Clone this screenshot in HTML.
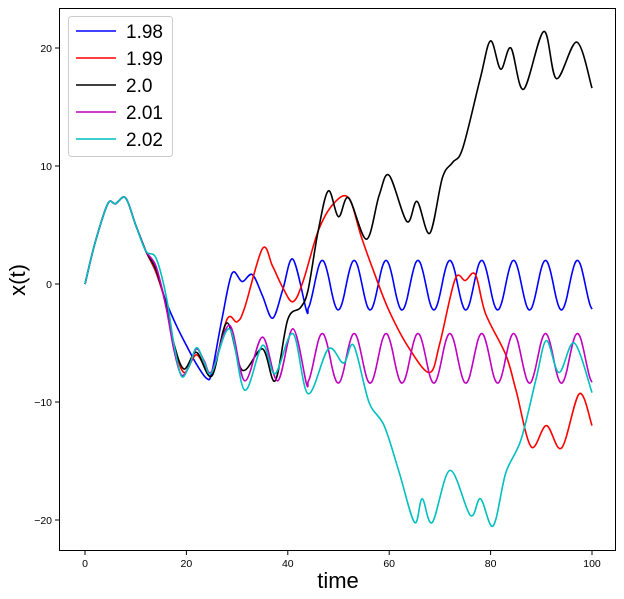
<!DOCTYPE html><html><head><style>body{margin:0;background:#fff}svg{display:block;font-family:"Liberation Sans","DejaVu Sans",sans-serif}</style></head><body>
<svg id="s" width="624" height="599" xmlns="http://www.w3.org/2000/svg">
<rect x="0" y="0" width="624" height="599" fill="#fff"/>
<g id="lines" fill="none" stroke-width="1.6"></g>
<rect x="59.5" y="8.5" width="556" height="542" fill="none" stroke="#000" stroke-width="1"/>
<g font-size="10.5" fill="#000" text-anchor="middle">
<g stroke="#000"><line x1="85" y1="551" x2="85" y2="555"/><line x1="186.4" y1="551" x2="186.4" y2="555"/><line x1="287.8" y1="551" x2="287.8" y2="555"/><line x1="389.2" y1="551" x2="389.2" y2="555"/><line x1="490.6" y1="551" x2="490.6" y2="555"/><line x1="592" y1="551" x2="592" y2="555"/>
<line x1="55" y1="48" x2="59.5" y2="48"/><line x1="55" y1="166" x2="59.5" y2="166"/><line x1="55" y1="284" x2="59.5" y2="284"/><line x1="55" y1="402" x2="59.5" y2="402"/><line x1="55" y1="520" x2="59.5" y2="520"/></g>
<text x="85" y="567">0</text><text x="186.4" y="567">20</text><text x="287.8" y="567">40</text><text x="389.2" y="567">60</text><text x="490.6" y="567">80</text><text x="592" y="567">100</text>
<g text-anchor="end"><text x="52" y="52">20</text><text x="52" y="170">10</text><text x="52" y="288">0</text><text x="52" y="406">−10</text><text x="52" y="524">−20</text></g>
</g>
<text x="338" y="588" font-size="22" text-anchor="middle">time</text>
<text transform="translate(25,280) rotate(-90)" font-size="22" text-anchor="middle">x(t)</text>
<rect x="68.5" y="16.5" width="104" height="140" rx="3" fill="#fff" fill-opacity="0.85" stroke="#ccc"/>
<g font-size="19" stroke-width="1.6">
<line x1="76" y1="31" x2="116" y2="31" stroke="#0000ff"/><text x="126" y="38">1.98</text>
<line x1="76" y1="58" x2="116" y2="58" stroke="#ff0000"/><text x="126" y="65">1.99</text>
<line x1="76" y1="85" x2="116" y2="85" stroke="#000"/><text x="126" y="92">2.0</text>
<line x1="76" y1="112" x2="116" y2="112" stroke="#bf00bf"/><text x="126" y="119">2.01</text>
<line x1="76" y1="139" x2="116" y2="139" stroke="#00bfbf"/><text x="126" y="146">2.02</text>
</g>
</svg>
<script>
const X=t=>85+t*5.07, Y=v=>284-v*11.8;
const start=[[0,0],[2,3.5],[4.5,6.8],[6,6.8],[8,7.3],[10,5],[12,2.8]];
function osc(t0,t1,hi,lo,per,phase){const a=[];for(let t=t0;t<=t1+0.01;t+=0.35){a.push([t,(hi+lo)/2+(hi-lo)/2*Math.cos(2*Math.PI*(t-phase)/per)]);}return a;}
function path(pts){pts=pts.map(p=>[X(p[0]),Y(p[1])]);let d="M"+pts[0][0]+","+pts[0][1];for(let i=0;i<pts.length-1;i++){const p0=pts[Math.max(0,i-1)],p1=pts[i],p2=pts[i+1],p3=pts[Math.min(pts.length-1,i+2)];const c1=[p1[0]+(p2[0]-p0[0])/6,p1[1]+(p2[1]-p0[1])/6],c2=[p2[0]-(p3[0]-p1[0])/6,p2[1]-(p3[1]-p1[1])/6];d+=`C${c1[0].toFixed(1)},${c1[1].toFixed(1)} ${c2[0].toFixed(1)},${c2[1].toFixed(1)} ${p2[0].toFixed(1)},${p2[1].toFixed(1)}`;}return d;}
const P=6.29, PH=46.8;
const S={
blue:start.concat([[14,1],[16,-1.5],[18,-3.5],[20,-5.2],[22,-6.8],[24,-8],[25,-7.5],[27,-3],[29,0.9],[31,0.2],[33,0.8],[35,-1],[37,-2.9],[39,-0.5],[41,2.1]]).concat(osc(43.65,100,2.0,-2.2,P,PH)),
magenta:start.concat([[14,1.5],[16,-2],[17.5,-5.5],[19,-7.7],[20.5,-7],[22,-5.5],[23.5,-6.5],[25,-7.4],[28.5,-3.5],[31.5,-8.2],[35,-4.5],[38,-8.2],[41,-3.8]]).concat(osc(43.65,100,-4.2,-8.4,P,PH)),
cyan:start.concat([[14,2.2],[16,-1],[17.5,-5],[19,-7.8],[20.5,-7],[22,-5.4],[23.5,-6.6],[25,-7.5],[28.5,-3.8],[31.5,-9],[35,-5.2],[37.5,-7.6],[41,-4.2],[44,-9.3],[48,-5.5],[51,-6.7],[53,-5.2],[56,-10],[59,-12],[62,-16],[65,-20.2],[66.5,-18.2],[68.5,-20.2],[72,-15.8],[76,-19.6],[78,-18.2],[80.5,-20.5],[83,-16],[86,-13.2],[89,-8],[91,-4.8],[93.5,-7.5],[96.5,-5],[100,-9.2]]),
black:start.concat([[14,1.2],[16,-1.8],[17.5,-5],[19.5,-7.2],[22,-5.8],[25,-7.8],[28,-3.3],[31,-7.3],[35,-5.5],[37.5,-8.2],[40,-3],[42.5,-2],[44,-0.5],[46,4.5],[48,7.9],[50,5.7],[52,7.3],[55.5,3.8],[58,7.5],[60,9.2],[63.5,5.3],[65.5,7],[68,4.3],[70.5,9],[72.5,10.3],[74.5,11.5],[78,17.5],[80,20.6],[82,18.2],[84,20],[86.5,16.5],[90.5,21.4],[93,17.4],[97,20.5],[100,16.6]]),
red:start.concat([[14,1],[16,-1.8],[17.5,-5],[19.5,-7.5],[22,-6],[25,-7.5],[28,-3],[30,-3.2],[31.5,-2],[35,3],[37,1.5],[39,-0.3],[41,-1.5],[43,0.2],[46,4.5],[49,6.8],[52,7.3],[54.5,4],[57,1],[60,-2.3],[64,-5.5],[68,-7.5],[70,-5],[73,0.4],[75,0.3],[77,0.8],[79,-2.5],[83,-6],[85,-9],[88,-13.8],[91,-12],[94,-13.9],[97.5,-9.3],[100,-12]])};
const cols=[["blue","#0000ff"],["red","#ff0000"],["black","#000000"],["magenta","#bf00bf"],["cyan","#00bfbf"]];
const g=document.getElementById("lines");
for(const [k,c] of cols){const p=document.createElementNS("http://www.w3.org/2000/svg","path");p.setAttribute("d",path(S[k]));p.setAttribute("stroke",c);g.appendChild(p);}
</script>
</body></html>
